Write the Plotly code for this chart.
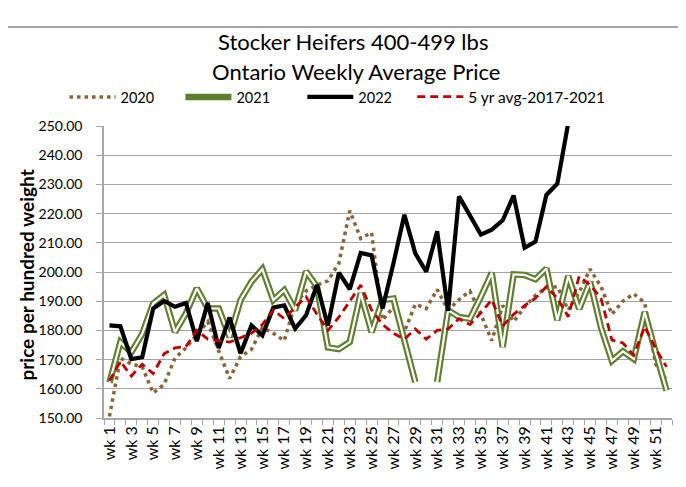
import plotly.graph_objects as go

WEEKS = [f"wk {i}" for i in range(1, 53)]
WEEK_NUM = list(range(1, 53))
TICK_WEEKS = list(range(1, 53, 2))
TICK_TEXT = [f"wk {i}" for i in TICK_WEEKS]
Y_TICKS = [150, 160, 170, 180, 190, 200, 210, 220, 230, 240, 250]

y2020 = [150.5, 170.5, 168.5, 167.5, 158.6, 161.5, 170.5, 174, 178.5, 183,
         173, 163.5, 171, 173.5, 181, 179, 176.5, 189, 193.5, 195.5,
         197, 203, 221, 211.5, 213.5, 183.5, 188, 179.5, 189, 187.5,
         194, 187, 190.5, 193.5, 185.5, 176.5, 188.5, 183, 188, 192,
         194.5, 195, 187, 193, 201, 195, 185.5, 190, 192.5, 189.5,
         168.5, 163]
y2021 = [162.1, 176, 172.5, 178.8, 189.2, 192.1, 179.4, 185.8, 194.4, 187.5,
         187.5, 177.7, 190.4, 196.7, 201, 190.4, 193.8, 186.9, 200.2, 195,
         174.2, 173.6, 176, 192.7, 179.4, 190.4, 190.9, 176.5, 162.3, None,
         162.3, 186.9, 184.6, 184, 191.5, 199.7, 174.3, 199.2, 199, 197.5,
         201.2, 183.5, 198.6, 187.3, 196.7, 181, 169.6, 172.8, 170.2, 186.3,
         172.5, 159.4]
y2022 = [181.7, 181.4, 170.2, 170.8, 187.5, 190.1, 188.1, 189.4, 176.3, 189.4,
         174, 184.4, 172.1, 181.7, 178.3, 187.8, 188.6, 180.6, 185.2, 195.6,
         181.7, 199.8, 194.1, 206.5, 205.7, 187.5, 203, 219.6, 206.4, 200.1,
         213.9, 186.7, 225.9, 219, 212.8, 214.5, 217.7, 226.2, 208.3, 210.4,
         226.4, 230.2, 251] + [None] * 9
y5yr = [162.7, 169.4, 164.4, 168.4, 165.2, 172, 174, 174.5, 180, 177,
        176.5, 176, 177.5, 179, 182, 187, 184, 188, 191.5, 185.5,
        180, 184.5, 190, 195.5, 187, 182, 179, 177, 180.5, 177,
        180, 180.5, 184, 182, 186, 190.5, 181.5, 185.5, 188.5, 191,
        195, 191, 184.7, 198.5, 195.6, 191, 176.7, 175.7, 171.5, 181.3,
        173.8, 167.5]

FONT = "Lato, 'Open Sans', sans-serif"
GREEN = "#5E7F2B"
BROWN = "#8C6234"
RED = "#C00000"
GRID = "#A6A6A6"

W, H = 686, 487
L, R = 95.5, 664.0
T, B = 118.0, 410.0

def px_x(p):
    return (p - L) / (R - L)

def px_y(p):
    return (B - p) / (B - T)

fig = go.Figure()
fig.add_trace(go.Scatter(x=WEEK_NUM, y=y2020, name="2020", mode="lines", legend="legend",
                         line=dict(color=BROWN, width=3.5, dash="3.5px,4px"),
                         hovertext=WEEKS))
fig.add_trace(go.Scatter(x=WEEK_NUM, y=y2021, name="2021", mode="lines", legend="legend2",
                         line=dict(color=GREEN, width=6.5), legendgroup="g21",
                         connectgaps=False))
fig.add_trace(go.Scatter(x=WEEK_NUM, y=y2021, name="2021", mode="lines", legend="legend2",
                         line=dict(color="white", width=2.2), legendgroup="g21",
                         showlegend=False, connectgaps=False, hoverinfo="skip"))
fig.add_trace(go.Scatter(x=WEEK_NUM, y=y2022, name="2022", mode="lines", legend="legend3",
                         line=dict(color="black", width=4.2)))
fig.add_trace(go.Scatter(x=WEEK_NUM, y=y5yr, name="5 yr avg-2017-2021", mode="lines",
                         legend="legend4",
                         line=dict(color=RED, width=2.8, dash="8px,5px")))

def leg(x_px, size=14.5):
    return dict(orientation="h", x=px_x(x_px), y=px_y(89), xanchor="left", yanchor="middle",
                font=dict(size=size, family=FONT), itemwidth=46,
                bgcolor="rgba(0,0,0,0)")

fig.update_layout(
    width=W, height=H,
    margin=dict(l=L, r=W - R, t=T, b=H - B, autoexpand=False),
    paper_bgcolor="white", plot_bgcolor="white",
    font=dict(family=FONT, color="black"),
    showlegend=True,
    legend=leg(56), legend2=leg(172), legend3=leg(294), legend4=leg(404, 15.5),
    annotations=[
        dict(text="Stocker Heifers 400-499 lbs", x=px_x(345), y=px_y(33), xref="paper", yref="paper",
             showarrow=False, font=dict(size=22, family=FONT), xanchor="center", yanchor="middle"),
        dict(text="Ontario Weekly Average Price", x=px_x(348), y=px_y(64), xref="paper", yref="paper",
             showarrow=False, font=dict(size=22, family=FONT), xanchor="center", yanchor="middle"),
        dict(text="<b>price per hundred weight</b>", x=px_x(17), y=px_y(267), xref="paper", yref="paper",
             showarrow=False, textangle=-90, font=dict(size=19, family=FONT),
             xanchor="center", yanchor="middle"),
    ],
    shapes=[
        dict(type="rect", xref="paper", yref="paper", x0=px_x(-5), x1=px_x(673),
             y0=px_y(483), y1=px_y(19), line=dict(color="#8C8C8C", width=1.5),
             fillcolor="rgba(0,0,0,0)", layer="above"),
    ],
)

fig.update_xaxes(
    range=[0.5, 52.5], tickmode="array", tickvals=TICK_WEEKS, ticktext=TICK_TEXT,
    tickangle=-90, ticks="", showgrid=False, zeroline=False,
    showline=True, linecolor=GRID, linewidth=1.5,
    tickfont=dict(size=16, family=FONT, color="black"),
    minor=dict(ticks="outside", ticklen=5, tick0=0.5, dtick=1, tickcolor=GRID,
               tickwidth=1, showgrid=False),
)
fig.update_yaxes(
    range=[150, 250], tickmode="array", tickvals=Y_TICKS,
    ticktext=[f"{v:.2f}" for v in Y_TICKS],
    ticks="outside", ticklen=6, tickcolor=GRID, tickwidth=1,
    showgrid=True, gridcolor=GRID, gridwidth=1.4, zeroline=False,
    showline=True, linecolor=GRID, linewidth=1.5, ticklabelstandoff=11,
    tickfont=dict(size=14, family=FONT, color="black"),
)

fig.write_html("out.html")
